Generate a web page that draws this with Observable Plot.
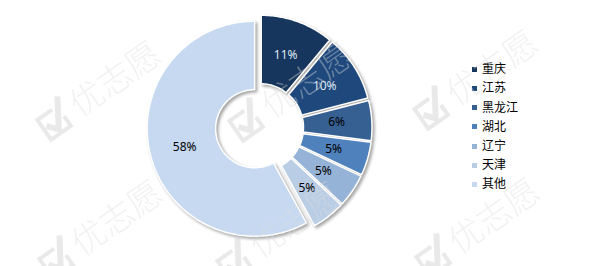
<!DOCTYPE html>
<html><head><meta charset="utf-8">
<script src="https://cdn.jsdelivr.net/npm/d3@7"></script>
<script src="https://cdn.jsdelivr.net/npm/@observablehq/plot@0.6"></script>
<style>
body{margin:0;background:#fff;}
#wrap{position:relative;width:600px;height:266px;overflow:hidden;font-family:"Noto Sans CJK SC","Noto Sans",sans-serif;}
#chart{position:absolute;left:0;top:0;}
.item{position:absolute;white-space:nowrap;font-size:12px;color:#000;line-height:14px;height:14px;}
.sw{position:absolute;left:0;top:4.5px;width:5px;height:5px;}
.lt{position:absolute;left:10px;top:-1px;}
.wm{position:absolute;transform-origin:0 0;white-space:nowrap;pointer-events:none;opacity:0.38;}
.wm svg{position:absolute;left:0;top:-2px;}
.wm span{position:absolute;left:40px;top:0;font-size:34px;line-height:34px;color:rgb(220,220,220);font-family:"Noto Sans CJK SC",sans-serif;font-weight:300;}
</style></head><body><div id="wrap"><div id="chart"></div></div>
<script>
const categories = ["重庆","江苏","黑龙江","湖北","辽宁","天津","其他"];
const values = [11,10,6,5,5,5,58];
const labels = ["11%","10%","6%","5%","5%","5%","58%"];
const colors = ["#17365d","#1f497d","#366092","#4f81bd","#95b3d7","#b9cde5","#c6d9f1"];
const lightLabel = ["重庆","江苏"];

// layout constants
const W = 600, H = 266, cx = 259, cy = 127, R = 107.5, r = 39, explode = 5;

const total = d3.sum(values);
let acc = 0;
const slices = values.map((v, i) => {
  const a0 = acc / total * 2 * Math.PI; acc += v;
  const a1 = acc / total * 2 * Math.PI;
  const mid = (a0 + a1) / 2;
  return {i, cat: categories[i], v, label: labels[i], a0, a1, mid,
    ox: explode * Math.sin(mid), oy: -explode * Math.cos(mid)};
});
const pts = [];
for (const s of slices) {
  const n = Math.max(6, Math.ceil((s.a1 - s.a0) / (Math.PI / 180)));
  for (let k = 0; k <= n; k++) {
    const a = s.a0 + (s.a1 - s.a0) * k / n;
    pts.push({cat: s.cat, x: cx + s.ox + R * Math.sin(a), y: cy + s.oy - R * Math.cos(a)});
  }
  for (let k = n; k >= 0; k--) {
    const a = s.a0 + (s.a1 - s.a0) * k / n;
    pts.push({cat: s.cat, x: cx + s.ox + r * Math.sin(a), y: cy + s.oy - r * Math.cos(a)});
  }
}
const lr = (R + r) / 2 - 1;
const lx = s => cx + s.ox + lr * Math.sin(s.mid);
const ly = s => cy + s.oy - lr * Math.cos(s.mid);

const chart = Plot.plot({
  width: W, height: H, margin: 0,
  style: {background: "transparent", overflow: "visible"},
  x: {domain: [0, W], range: [0, W], axis: null},
  y: {domain: [0, H], range: [0, H], axis: null},
  color: {domain: categories, range: colors},
  marks: [
    Plot.line(pts, {x: "x", y: "y", z: "cat", fill: "cat", stroke: "white", strokeWidth: 1.5, curve: "linear-closed"}),
    Plot.text(slices, {filter: s => lightLabel.includes(s.cat), x: lx, y: ly, text: "label", fill: "#dfe8f4", fontSize: 12, fontFamily: "Noto Sans, sans-serif"}),
    Plot.text(slices, {filter: s => !lightLabel.includes(s.cat), x: lx, y: ly, text: "label", fill: "#000", fontSize: 12, fontFamily: "Noto Sans, sans-serif"})
  ]
});
chart.querySelectorAll('g[aria-label="line"]').forEach(g => g.style.filter = "drop-shadow(2px 2px 1.5px rgba(0,0,0,0.35))");
document.getElementById("chart").appendChild(chart);

// legend
const wrap = document.getElementById("wrap");
categories.forEach((c, i) => {
  const it = document.createElement("div");
  it.className = "item";
  it.style.left = "472px";
  it.style.top = (62.2 + i * 19.2) + "px";
  it.innerHTML = `<span class="sw" style="background:${colors[i]}"></span><span class="lt">${c}</span>`;
  wrap.appendChild(it);
});

// watermarks (logo drawn as an icon, text kept as text)
const wmText = "优志愿";
const logo = `<svg width="36" height="38" viewBox="0 0 36 38"><path d="M22 10 H4 V34 H28 V22" fill="none" stroke="rgb(200,200,200)" stroke-width="4"/><path d="M8 20 L16 30 L34 2" fill="none" stroke="rgb(200,200,200)" stroke-width="6"/></svg>`;
[[86, 97], [278, 98], [463, 86], [88, 236], [266, 238], [465, 234]].forEach(([x, y]) => {
  const d = document.createElement("div");
  d.className = "wm";
  d.style.left = x + "px"; d.style.top = y + "px";
  d.style.transform = "rotate(-35deg) translate(-57px,-17px)";
  d.innerHTML = logo + `<span>${wmText}</span>`;
  wrap.appendChild(d);
});
</script></body></html>
